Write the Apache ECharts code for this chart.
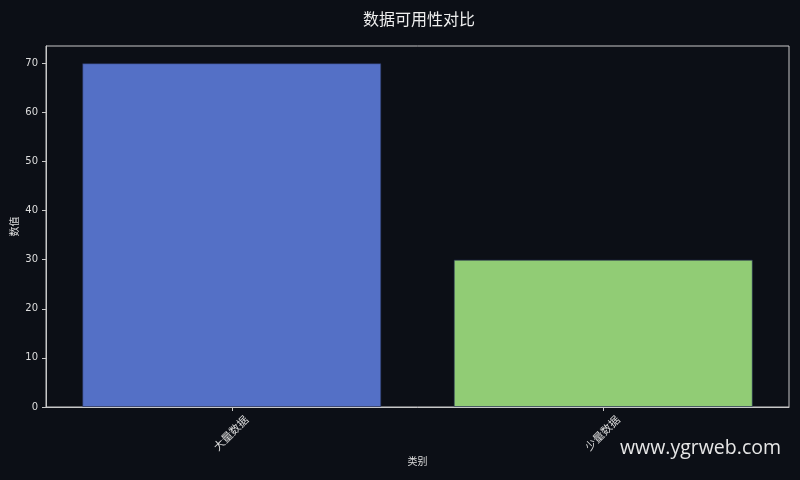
<!DOCTYPE html>
<html><head><meta charset="utf-8">
<script src="https://cdn.jsdelivr.net/npm/echarts@6/dist/echarts.min.js"></script>
<style>html,body{margin:0;padding:0;background:#0c0f16;}#c{width:800px;height:480px;}</style>
</head><body><div id="c"></div>
<script>
const categories = ['大量数据', '少量数据'];
const values = [70, 30];
const barColors = ['#5470c6', '#91cc75'];
const yTicks = [0, 10, 20, 30, 40, 50, 60, 70];

const chart = echarts.init(document.getElementById('c'));
const fontCJK = '"DejaVu Sans", "Noto Sans CJK SC", sans-serif';
chart.setOption({
  backgroundColor: '#0c0f16',
  animation: false,
  title: {
    text: '数据可用性对比', left: 414, top: 6,
    textAlign: 'center',
    textStyle: { color: '#eeeeee', fontSize: 16, fontWeight: 'normal', fontFamily: '"Noto Sans CJK SC", sans-serif' }
  },
  graphic: [{
    type: 'text', right: 19, top: 438,
    style: { text: 'www.ygrweb.com', fill: '#e6e6e6', fontSize: 19.5, fontFamily: '"Open Sans", "Noto Sans", sans-serif' }
  }],
  grid: { left: 46, right: 11, top: 46, bottom: 73, show: true, borderColor: '#c8c8c8', borderWidth: 1,
          containLabel: false, outerBoundsMode: 'none' },
  xAxis: {
    type: 'category', data: categories,
    name: '类别', nameLocation: 'middle', nameGap: 50, nameMoveOverlap: false,
    nameTextStyle: { color: '#dddddd', fontSize: 10, fontFamily: fontCJK },
    axisLine: { show: true, lineStyle: { color: '#c8c8c8', width: 1 } },
    axisTick: { show: true, alignWithLabel: true, length: 4, lineStyle: { color: '#c8c8c8' } },
    axisLabel: { rotate: 45, color: '#dddddd', fontSize: 11, margin: 27, align: 'center', verticalAlign: 'middle', fontFamily: fontCJK }
  },
  yAxis: {
    type: 'value', min: 0, max: 73.5, interval: 10,
    name: '数值', nameLocation: 'middle', nameGap: 26, nameMoveOverlap: false,
    nameTextStyle: { color: '#dddddd', fontSize: 10, fontFamily: fontCJK },
    splitLine: { show: false },
    axisLine: { show: true, lineStyle: { color: '#c8c8c8', width: 1 } },
    axisTick: { show: true, length: 4, lineStyle: { color: '#c8c8c8' }, customValues: yTicks },
    axisLabel: { color: '#dddddd', fontSize: 10, margin: 8, fontFamily: fontCJK, customValues: yTicks }
  },
  series: [{
    type: 'bar', barWidth: '80.5%',
    data: values.map((v, i) => ({ value: v, itemStyle: { color: barColors[i] } })),
    itemStyle: { borderColor: 'rgba(40,50,90,0.6)', borderWidth: 1 }
  }]
});
</script></body></html>
